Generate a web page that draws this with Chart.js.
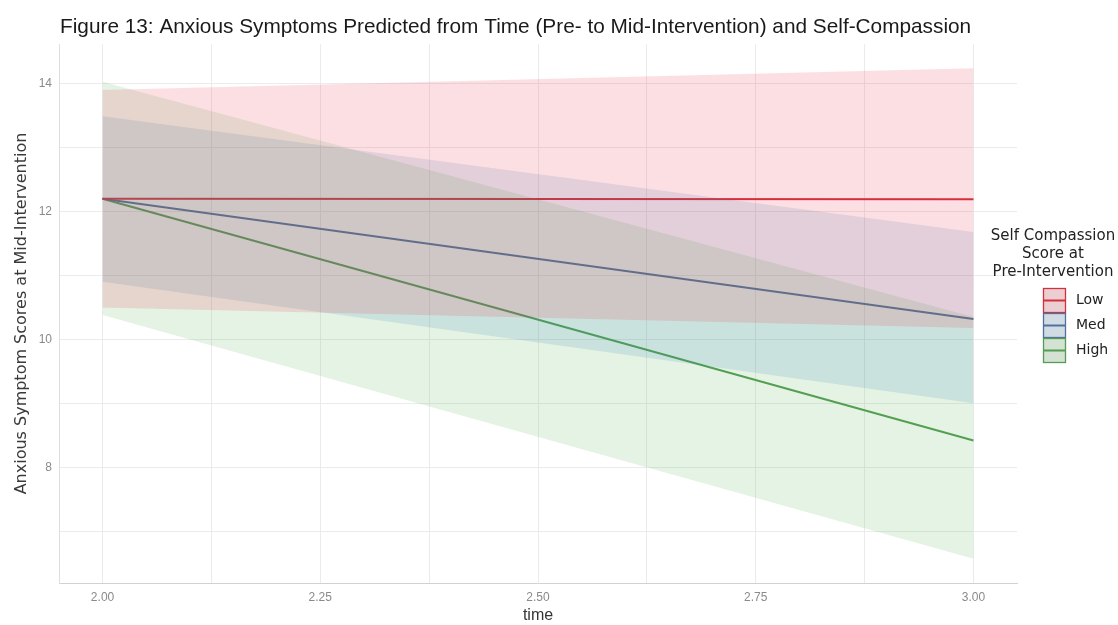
<!DOCTYPE html>
<html>
<head>
<meta charset="utf-8">
<title>Anxious symptoms by time and self-compassion</title>
<script src="https://cdn.jsdelivr.net/npm/chart.js@4.4.1/dist/chart.umd.min.js"></script>
<style>
  html, body { margin: 0; padding: 0; background: #fff; }
  #chart { display: block; }
</style>
</head>
<body>
<canvas id="chart" width="1118" height="625"></canvas>
<script>
// time points (pre = 2, mid = 3)
const timePoints = [2, 3];

// fitted values and confidence bands per self-compassion group
const lowFit = [12.2, 12.19];
const lowUpper = [13.9, 14.24];
const lowLower = [10.5, 10.18];

const medFit = [12.2, 10.32];
const medUpper = [13.49, 11.68];
const medLower = [10.9, 9.0];

const highFit = [12.2, 8.42];
const highUpper = [14.03, 10.35];
const highLower = [10.38, 6.57];

const groupNames = ["Low", "Med", "High"];

const xMajorTicks = [2, 2.25, 2.5, 2.75, 3];
const xMinorTicks = [2.125, 2.375, 2.625, 2.875];
const yMajorTicks = [8, 10, 12, 14];
const yMinorTicks = [7, 9, 11, 13];

const titleText = "Figure 13: Anxious Symptoms Predicted from Time (Pre- to Mid-Intervention) and Self-Compassion";
const legendTitle = ["Self Compassion", "Score at", "Pre-Intervention"];

const lineColors = ["#d3303d", "#50709e", "#559d53"];
const bandColors = ["rgba(232, 40, 70, 0.15)", "rgba(55, 126, 184, 0.15)", "rgba(77, 175, 74, 0.15)"];

const toPoints = (ys) => ys.map((y, i) => ({ x: timePoints[i], y }));

const groups = [
	{ fit: lowFit, upper: lowUpper, lower: lowLower },
	{ fit: medFit, upper: medUpper, lower: medLower },
	{ fit: highFit, upper: highUpper, lower: highLower },
];

const datasets = [];
groups.forEach((g, i) => {
	datasets.push({
		label: groupNames[i] + " upper",
		data: toPoints(g.upper),
		borderWidth: 0,
		pointRadius: 0,
		fill: false,
	});
	datasets.push({
		label: groupNames[i] + " lower",
		data: toPoints(g.lower),
		borderWidth: 0,
		pointRadius: 0,
		fill: "-1",
		backgroundColor: bandColors[i],
	});
});
groups.forEach((g, i) => {
	datasets.push({
		label: groupNames[i],
		data: toPoints(g.fit),
		borderColor: lineColors[i],
		borderWidth: 2,
		pointRadius: 0,
		fill: false,
	});
});

// figure title, top left
const figureTitle = {
	id: "figureTitle",
	afterDraw(chart) {
		const c = chart.ctx;
		c.save();
		c.font = '20.8px "Liberation Sans", Arial, sans-serif';
		c.fillStyle = "#1a1a1a";
		c.textBaseline = "alphabetic";
		c.textAlign = "left";
		c.fillText(titleText, 60, 33);
		c.restore();
	},
};

// ggplot-style legend: box with band fill and a line across
const groupLegend = {
	id: "groupLegend",
	afterDraw(chart) {
		const c = chart.ctx;
		const cx = 1053;
		c.save();
		c.font = '15px "DejaVu Sans", sans-serif';
		c.fillStyle = "#222";
		c.textAlign = "center";
		c.textBaseline = "middle";
		legendTitle.forEach((t, i) => c.fillText(t, cx, 236 + i * 18));

		const boxX = 1043;
		const boxW = 23;
		const boxH = 25;
		c.font = '14px "DejaVu Sans", sans-serif';
		groupNames.forEach((name, i) => {
			const top = 288 + i * boxH;
			c.fillStyle = "#ececec";
			c.fillRect(boxX, top, boxW, boxH);
			c.fillStyle = bandColors[i];
			c.fillRect(boxX, top, boxW, boxH);
			c.strokeStyle = lineColors[i];
			c.lineWidth = 1.3;
			c.strokeRect(boxX + 0.5, top + 0.5, boxW - 1, boxH - 1);
			c.lineWidth = 2;
			c.beginPath();
			c.moveTo(boxX, top + boxH / 2);
			c.lineTo(boxX + boxW, top + boxH / 2);
			c.stroke();
			c.fillStyle = "#222";
			c.textAlign = "left";
			c.fillText(name, boxX + boxW + 10, top + boxH / 2);
		});
		c.restore();
	},
};

const gridColor = "#ebebeb";
const tickFont = { family: '"Liberation Sans Narrow", "Liberation Sans", sans-serif', size: 12 };

const ctx = document.getElementById("chart").getContext("2d");
new Chart(ctx, {
	type: "line",
	data: { datasets },
	options: {
		responsive: false,
		animation: false,
		events: [],
		layout: { padding: { top: 44, right: 101, left: 0, bottom: 0 } },
		plugins: {
			legend: { display: false },
			tooltip: { enabled: false },
			filler: { propagate: false },
		},
		scales: {
			x: {
				type: "linear",
				min: 1.95,
				max: 3.05,
				afterBuildTicks: (scale) => {
					scale.ticks = [...xMajorTicks, ...xMinorTicks].sort((a, b) => a - b).map((v) => ({ value: v }));
				},
				afterFit: (scale) => {
					scale.height = 42;
				},
				ticks: {
					autoSkip: false,
					maxRotation: 0,
					padding: 7,
					color: "#8a8a8a",
					font: tickFont,
					callback: (v) => (xMajorTicks.includes(v) ? v.toFixed(2) : ""),
				},
				grid: { color: gridColor, drawTicks: false },
				border: { color: "#d2d2d2", width: 1 },
				title: {
					display: true,
					text: "time",
					color: "#333",
					font: { family: '"Liberation Sans Narrow", "Liberation Sans", sans-serif', size: 16 },
					padding: { top: 0, bottom: 0 },
				},
			},
			y: {
				type: "linear",
				min: 6.19,
				max: 14.62,
				afterBuildTicks: (scale) => {
					scale.ticks = [...yMinorTicks, ...yMajorTicks].sort((a, b) => a - b).map((v) => ({ value: v }));
				},
				afterFit: (scale) => {
					scale.width = 59;
				},
				ticks: {
					autoSkip: false,
					padding: 7,
					color: "#8a8a8a",
					font: tickFont,
					callback: (v) => (yMajorTicks.includes(v) ? String(v) : ""),
				},
				grid: { color: gridColor, drawTicks: false },
				border: { color: "#dedede", width: 1 },
				title: {
					display: true,
					text: "Anxious Symptom Scores at Mid-Intervention",
					color: "#3a3a3a",
					font: { family: '"DejaVu Sans", sans-serif', size: 16 },
					padding: { top: 12, bottom: 0 },
				},
			},
		},
	},
	plugins: [figureTitle, groupLegend],
});
</script>
</body>
</html>
